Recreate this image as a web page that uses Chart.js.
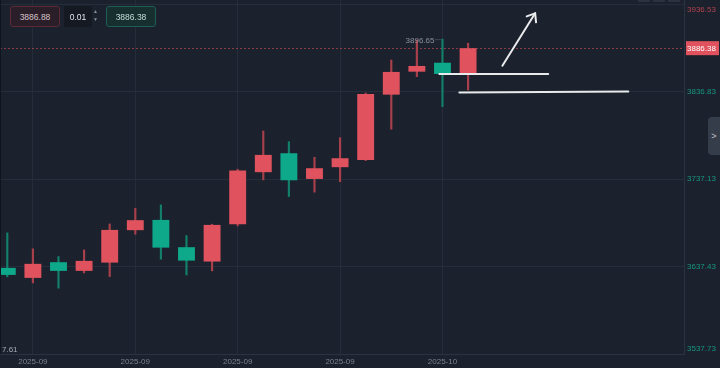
<!DOCTYPE html>
<html><head><meta charset="utf-8">
<script src="https://cdn.jsdelivr.net/npm/chart.js@4.4.1/dist/chart.umd.min.js"></script>
<style>
html,body{margin:0;padding:0;background:#1b212d;width:720px;height:368px;overflow:hidden;font-family:"Liberation Sans",Arial,sans-serif}
#wrap{position:relative;width:720px;height:368px}
#c{position:absolute;left:0;top:0}
.ob{position:absolute;box-sizing:border-box;border-radius:3px;font-size:8.5px;display:flex;align-items:center;justify-content:center}
</style></head><body>
<div id="wrap">
<canvas id="c" width="720" height="368"></canvas>
<div style="position:absolute;left:0;top:0;width:1px;height:354px;background:#10141c"></div>
<div class="ob" style="left:10px;top:6px;width:50px;height:21px;border:1px solid #5c2a37;background:#2a1f29;color:#d6c3c8">3886.88</div>
<div class="ob" style="left:64px;top:6px;width:28px;height:21px;background:#141922;color:#e4e6ea">0.01</div>
<div style="position:absolute;left:93px;top:7px;font-size:5px;line-height:8px;color:#8a909a">▲<br>▼</div>
<div class="ob" style="left:106px;top:6px;width:50px;height:21px;border:1px solid #1d5f55;background:#182f2f;color:#c4ddd7">3886.38</div>
<div style="position:absolute;left:638px;top:-1px;width:12px;height:3px;background:#2b3240;border-radius:1px"></div>
<div style="position:absolute;left:653px;top:-1px;width:12px;height:3px;background:#2b3240;border-radius:1px"></div>
<div style="position:absolute;left:668px;top:-1px;width:12px;height:3px;background:#2b3240;border-radius:1px"></div>
<div style="position:absolute;left:708px;top:117px;width:14px;height:38px;background:#353c4a;border-radius:4px 0 0 4px;color:#c3c7ce;font-size:9px;display:flex;align-items:center;justify-content:center;padding-right:2px;box-sizing:border-box">&gt;</div>
</div>
<script>
// Candle data (index = slot on the time axis)
const opens  = [3635.9, 3624.5, 3642.4, 3632.5, 3641.9, 3678.9, 3690.6, 3659.5, 3643.1, 3685.7, 3745.0, 3766.6, 3737.3, 3750.7, 3759.0, 3833.4, 3859.6, 3869.8, 3857.0];
const highs  = [3675.8, 3657.6, 3648.8, 3656.4, 3686.0, 3703.9, 3707.7, 3672.7, 3685.7, 3748.4, 3792.0, 3779.8, 3762.0, 3784.4, 3835.3, 3872.9, 3895.7, 3896.65, 3892.0];
const lows   = [3625.7, 3618.8, 3612.8, 3630.2, 3626.0, 3674.3, 3645.8, 3627.9, 3632.5, 3683.8, 3736.2, 3717.2, 3722.2, 3734.2, 3758.2, 3794.0, 3853.9, 3819.7, 3838.7];
const closes = [3627.9, 3640.5, 3632.5, 3643.9, 3679.2, 3690.3, 3659.0, 3644.2, 3684.9, 3746.8, 3764.7, 3735.8, 3749.5, 3760.9, 3834.2, 3859.3, 3866.1, 3857.0, 3886.38];

const xTickSlots  = [1, 5, 9, 13, 17];
const xTickLabels = ['2025-09', '2025-09', '2025-09', '2025-09', '2025-10'];
const yTickValues = [3537.73, 3637.43, 3737.13, 3836.83, 3936.53];
const lastPrice = 3886.38;
const highLabel = '3896.65';
const lowLabel = '7.61';

// hand-drawn annotation lines (slot, price)
const drawnLine1 = [[16.88, 3857.0], [21.13, 3857.0]];
const drawnLine2 = [[17.66, 3835.9], [24.26, 3837.1]];
const drawnArrow = [[19.34, 3866.4], [20.62, 3926.1]];

const UP = '#e0535e', DOWN = '#0ea98a';
const UPW = '#a8404c', DOWNW = '#12806b';
const GRID = '#252d3a', BORDER = '#2a3341';
const FONT = '"Liberation Sans", Arial, sans-serif';

const isUp = opens.map((o, i) => closes[i] >= o);

const bodies = opens.map((o, i) => ({x: i, y: [o, closes[i]]}));
const wicks = highs.map((h, i) => ({x: i, y: [lows[i], h]}));

const overlay = {
  id: 'overlay',
  beforeDatasetsDraw(chart) {
    const {ctx, chartArea: a, scales: {y}} = chart;
    const py = Math.round(y.getPixelForValue(lastPrice)) + 0.5;
    ctx.save();
    ctx.strokeStyle = 'rgba(224,83,94,0.55)';
    ctx.lineWidth = 1;
    ctx.setLineDash([2, 2]);
    ctx.beginPath(); ctx.moveTo(a.left, py); ctx.lineTo(a.right, py); ctx.stroke();
    ctx.restore();
  },
  afterDraw(chart) {
    const {ctx, chartArea: a, scales: {x, y}} = chart;
    ctx.save();
    // y tick labels
    ctx.font = '8px ' + FONT;
    ctx.textAlign = 'left';
    ctx.textBaseline = 'middle';
    yTickValues.forEach((v, i) => {
      let py = y.getPixelForValue(v);
      py = Math.max(10, Math.min(349, py));
      ctx.fillStyle = i === yTickValues.length - 1 ? '#b2424e' : '#17977d';
      ctx.fillText(v.toFixed(2), a.right + 3, py);
    });
    // last price tag
    const lp = y.getPixelForValue(lastPrice);
    ctx.fillStyle = UP;
    ctx.fillRect(a.right + 2, lp - 7, 33, 14);
    ctx.fillStyle = '#ffffff';
    ctx.fillText(lastPrice.toFixed(2), a.right + 3, lp + 0.5);
    // high label
    let hi = 0;
    highs.forEach((h, i) => { if (h > highs[hi]) hi = i; });
    const hx = x.getPixelForValue(hi), hy = y.getPixelForValue(highs[hi]);
    ctx.fillStyle = '#8c929c';
    ctx.textAlign = 'right';
    ctx.fillText(highLabel, hx - 8, hy + 2);
    ctx.strokeStyle = '#6c727c';
    ctx.setLineDash([1, 1]);
    ctx.beginPath(); ctx.moveTo(hx - 7, hy + 0.5); ctx.lineTo(hx - 1, hy + 0.5); ctx.stroke();
    ctx.setLineDash([]);
    // low label
    ctx.textAlign = 'left';
    ctx.fillStyle = '#a9adb5';
    ctx.fillText(lowLabel, a.left + 2, 349.5);
    // drawn lines
    const P = p => [x.getPixelForValue(p[0]), y.getPixelForValue(p[1])];
    ctx.strokeStyle = '#e9eaec';
    ctx.lineWidth = 2;
    ctx.lineCap = 'round';
    [drawnLine1, drawnLine2, drawnArrow].forEach(l => {
      const s = P(l[0]), e = P(l[1]);
      ctx.beginPath(); ctx.moveTo(s[0], s[1]); ctx.lineTo(e[0], e[1]); ctx.stroke();
    });
    const s = P(drawnArrow[0]), e = P(drawnArrow[1]);
    const ang = Math.atan2(s[1] - e[1], s[0] - e[0]);
    const L = 9, sp = 0.66;
    ctx.beginPath();
    ctx.moveTo(e[0] + L * Math.cos(ang - sp), e[1] + L * Math.sin(ang - sp));
    ctx.lineTo(e[0], e[1]);
    ctx.lineTo(e[0] + L * Math.cos(ang + sp), e[1] + L * Math.sin(ang + sp));
    ctx.stroke();
    ctx.restore();
  }
};

new Chart(document.getElementById('c'), {
  type: 'bar',
  data: {
    datasets: [
      {label: 'body', data: bodies, order: 0, grouped: false,
       backgroundColor: isUp.map(u => u ? UP : DOWN),
       barPercentage: 0.66, categoryPercentage: 1, borderWidth: 0, borderSkipped: false},
      {label: 'wick', data: wicks, order: 1, grouped: false,
       backgroundColor: isUp.map(u => u ? UPW : DOWNW),
       barThickness: 1.5, borderWidth: 0, borderSkipped: false}
    ]
  },
  options: {
    responsive: false,
    animation: false,
    layout: {padding: 0},
    plugins: {legend: {display: false}, tooltip: {enabled: false}},
    scales: {
      x: {
        type: 'linear', min: -0.285, max: 26.435, offset: false,
        afterBuildTicks: s => { s.ticks = xTickSlots.map(v => ({value: v})); },
        afterFit: s => { s.height = 14; },
        ticks: {
          callback: v => { const k = xTickSlots.indexOf(v); return k >= 0 ? xTickLabels[k] : ''; },
          color: '#7b828d', font: {family: FONT, size: 8}, padding: 3,
          maxRotation: 0, autoSkip: false
        },
        grid: {color: GRID, drawTicks: false, offset: false},
        border: {color: BORDER}
      },
      y: {
        position: 'right', min: 3537.73, max: 3941.3,
        afterBuildTicks: s => { s.ticks = yTickValues.map(v => ({value: v})); },
        afterFit: s => { s.width = 36; },
        ticks: {display: false},
        grid: {color: GRID, drawTicks: false},
        border: {color: BORDER}
      }
    }
  },
  plugins: [overlay]
});
</script>
</body></html>
